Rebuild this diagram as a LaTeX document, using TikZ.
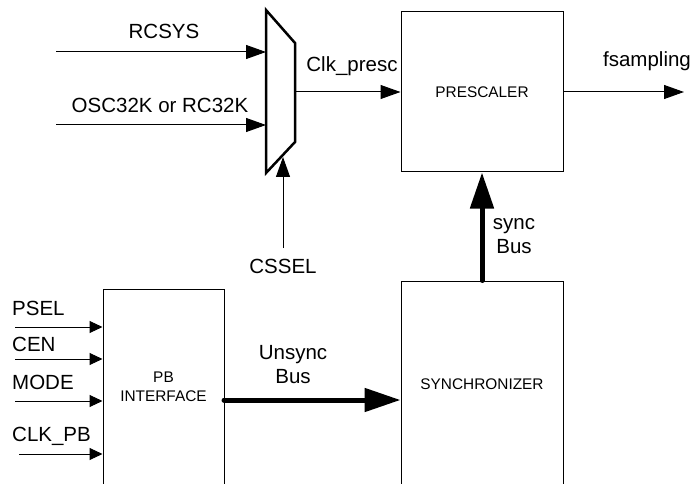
\documentclass[tikz,border=0pt]{standalone}
\usepackage{fontspec}
\setmainfont{Liberation Sans}
\usetikzlibrary{arrows.meta}
\begin{document}
\begin{tikzpicture}[x=1pt,y=-1pt,
  big/.style={font=\fontsize{20.5}{24}\selectfont},
  small/.style={font=\fontsize{15.4}{18.5}\selectfont},
  blk/.style={draw, line width=1pt, inner sep=0pt, small, align=center},
  sig/.style={line width=1pt, -{Triangle[length=20pt,width=14pt]}},
  sigs/.style={line width=1pt, -{Triangle[length=13pt,width=12pt]}},
  bus/.style={line width=5pt, line cap=round, -{Triangle[length=36pt,width=23pt]}},
  muxline/.style={line width=2.5pt, line join=miter}]
\useasboundingbox (0,0) rectangle (691,484);
\clip (0,0) rectangle (691,484);
% blocks
\node[blk, minimum width=162pt, minimum height=160pt] (pre) at (482,92) {PRESCALER};
\node[blk, minimum width=162pt, minimum height=206pt] (syn) at (482,384) {SYNCHRONIZER};
\node[blk, minimum width=121pt, minimum height=196pt] (pbi) at (163.5,387) {PB\\INTERFACE};
% multiplexer
\coordinate (m1) at (266,10);
\coordinate (m2) at (295,43);
\coordinate (m3) at (295,142);
\coordinate (m4) at (266,173);
\draw[muxline] (m1) -- (m2) -- (m3) -- (m4) -- cycle;
% mux inputs
\coordinate (rcs) at (56,52);
\coordinate (osc) at (56,125);
\coordinate (in1) at (266,52);
\coordinate (in2) at (266,125);
\draw[sig] (rcs) -- (in1);
\draw[sig] (osc) -- (in2);
\node[big, anchor=base] (lrcs) at (164,39) {RCSYS};
\node[big, anchor=base] (losc) at (160,113) {OSC32K or RC32K};
% mux output
\coordinate (mo) at (295,92);
\draw[sig] (mo) -- (mo -| pre.west);
\node[big, anchor=base] (lclk) at (352,72) {Clk\_presc};
% select
\coordinate (cs0) at (283,248);
\coordinate (cs1) at (283,157);
\draw[sig] (cs0) -- (cs1);
\node[big, anchor=base] (lcs) at (283,273) {CSSEL};
% output
\coordinate (fs) at (684,92);
\draw[sig] (pre.east) -- (fs);
\node[big, anchor=base] (lfs) at (647,67) {fsampling};
% sync bus
\draw[bus] (syn.north) -- (pre.south);
\node[big, align=center] (lsb) at (514,236.5) {sync\\Bus};
% unsync bus
\coordinate (ub) at (224,400);
\draw[bus] (ub) -- (ub -| syn.west);
\node[big, align=center] (lub) at (293,364.5) {Unsync\\Bus};
% PB inputs
\coordinate (p1) at (15,327);
\coordinate (p2) at (15,359);
\coordinate (p3) at (15,401);
\coordinate (p4) at (19,454);
\draw[sigs] (p1) -- (p1 -| pbi.west);
\draw[sigs] (p2) -- (p2 -| pbi.west);
\draw[sigs] (p3) -- (p3 -| pbi.west);
\draw[sigs] (p4) -- (p4 -| pbi.west);
\node[big, anchor=base west, inner sep=0pt] (lp1) at (12,315) {PSEL};
\node[big, anchor=base west, inner sep=0pt] (lp2) at (12,351) {CEN};
\node[big, anchor=base west, inner sep=0pt] (lp3) at (12,389) {MODE};
\node[big, anchor=base west, inner sep=0pt] (lp4) at (12,441) {CLK\_PB};
\end{tikzpicture}
\end{document}
